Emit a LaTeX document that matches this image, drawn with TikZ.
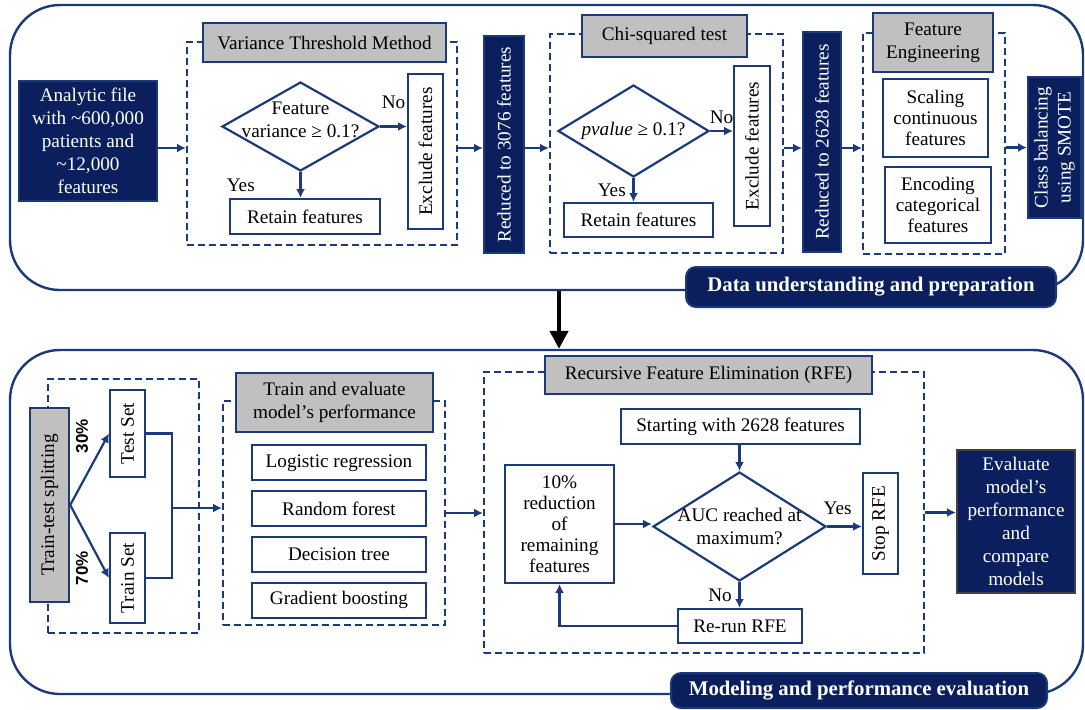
\documentclass[tikz,border=0pt]{standalone}
\usepackage{fontspec}
\setmainfont{Liberation Serif}
\newfontfamily\pctfont{Liberation Sans}
\usetikzlibrary{shapes.geometric,arrows.meta}
\definecolor{navy}{HTML}{0B1F5E}
\definecolor{lnavy}{HTML}{1B3A7A}
\definecolor{hgray}{HTML}{C0C0C0}
\tikzset{
  box/.style={draw=lnavy, line width=1pt, fill=white, text=black, align=center, inner sep=1pt},
  dbox/.style={box, fill=navy, text=white},
  hdr/.style={box, fill=hgray, line width=1.2pt},
  grp/.style={draw=lnavy, line width=1pt, dash pattern=on 3.5pt off 2pt},
  dia/.style={diamond, draw=lnavy, line width=1.1pt, fill=white, inner sep=0pt},
  tag/.style={dbox, rounded corners=5pt, font=\fontsize{10.4}{12}\selectfont\bfseries},
  panel/.style={draw=lnavy, line width=1.2pt, rounded corners=25pt},
  pct/.style={rotate=90, font=\pctfont\bfseries\fontsize{8.5}{10}\selectfont}
}
\begin{document}
\begin{tikzpicture}[x=0.5pt, y=-0.5pt, color=lnavy, text=black, line width=1.1pt,
    >={Latex[length=4.5pt,width=4.5pt]}, font=\fontsize{9.6}{11.5}\selectfont]
  \useasboundingbox (0,0) rectangle (1085,709);
  \node[panel, minimum width=536.5pt, minimum height=142.5pt] (P1) at (546.5,147.5) {};
  \node[panel, minimum width=536.5pt, minimum height=172pt] (P2) at (546.5,522) {};

  \node[dbox, minimum width=69pt, minimum height=60pt] (AF) at (88,141)
    {Analytic file\\with \textasciitilde600,000\\patients and\\\textasciitilde12,000\\features};
  \node[grp, minimum width=135pt, minimum height=101.5pt] (VT) at (322,143.5) {};
  \node[hdr, minimum width=121.5pt, minimum height=19.5pt] (VTH) at (324.5,42.5) {Variance Threshold Method};
  \node[dia, minimum width=78.5pt, minimum height=44.5pt] (D1) at (300.5,126.5) {};
  \node[align=center] (D1T) at ([yshift=3.5pt]D1) {Feature\\variance ≥ 0.1?};
  \node[box, rotate=90, minimum width=77.5pt, minimum height=17.5pt] (EX1) at (425.5,151.5) {Exclude features};
  \node[box, minimum width=75pt, minimum height=17.5pt] (RT1) at (305,216.5) {Retain features};
  \node[dbox, rotate=90, minimum width=108.5pt, minimum height=20pt] (R1) at (504,144.5) {Reduced to 3076 features};

  \node[grp, minimum width=116.5pt, minimum height=109.5pt] (CS) at (666.5,143.5) {};
  \node[hdr, minimum width=82.5pt, minimum height=21pt] (CSH) at (664.5,36) {Chi-squared test};
  \node[dia, minimum width=75.5pt, minimum height=46pt] (D2) at (633.5,131) {};
  \node (D2T) at (D2) {\textit{pvalue} ≥ 0.1?};
  \node[box, rotate=90, minimum width=80pt, minimum height=18pt] (EX2) at (752,146) {Exclude features};
  \node[box, minimum width=74.5pt, minimum height=17pt] (RT2) at (638.5,220) {Retain features};
  \node[dbox, rotate=90, minimum width=110pt, minimum height=19pt] (R2) at (822,142) {Reduced to 2628 features};

  \node[grp, minimum width=71pt, minimum height=110.5pt] (FE) at (934,143.5) {};
  \node[hdr, minimum width=60pt, minimum height=29.5pt] (FEH) at (933,42.5) {Feature\\Engineering};
  \node[box, minimum width=52.5pt, minimum height=39pt, font=\fontsize{9.6}{10.5}\selectfont] (SC) at (935.5,118) {Scaling\\continuous\\features};
  \node[box, minimum width=53pt, minimum height=38pt, font=\fontsize{9.6}{10.5}\selectfont] (EN) at (938,205) {Encoding\\categorical\\features};
  \node[dbox, rotate=90, minimum width=70.5pt, minimum height=26.5pt] (SM) at (1054.5,147.5) {Class balancing\\using SMOTE};
  \node[tag, minimum width=185pt, minimum height=20pt] (TL) at (871,287) {Data understanding and preparation};

  \coordinate (M) at (0,148);
  \draw[->] (AF.east |- M) -- (VT.west |- M);
  \draw[->] (D1) -- (D1 -| EX1.north) node[midway, above=5pt] (NO1) {No};
  \draw[->] (D1) -- (D1 |- RT1.north) node[midway, left=19pt] (YS1) {Yes};
  \draw[->] (VT.east |- M) -- (R1.north |- M);
  \draw[->] (R1.south |- M) -- (CS.west |- M);
  \draw[->] (D2) -- (D2 -| EX2.north) node[midway, above] (NO2) {No};
  \draw[->] (D2) -- (D2 |- RT2.north) node[midway, left] (YS2) {Yes};
  \draw[->] (CS.east |- M) -- (R2.north |- M);
  \draw[->] (R2.south |- M) -- (FE.west |- M);
  \draw[->] (FE.east |- SM) -- (SM.north);
  \draw[-{Triangle[length=9pt,width=9pt]}, line width=2.2pt, black] ([xshift=6.25pt]P1.south) -- ([xshift=6.25pt]P2.north);

  \node[grp, minimum width=75.5pt, minimum height=127pt] (TT) at (123.5,506) {};
  \node[hdr, rotate=90, minimum width=97pt, minimum height=19.5pt] (TS) at (49.5,505) {Train-test splitting};
  \node[box, rotate=90, minimum width=43.5pt, minimum height=17.5pt] (TE) at (127.5,433.5) {Test Set};
  \node[box, rotate=90, minimum width=45pt, minimum height=17.5pt] (TR) at (127.5,578) {Train Set};
  \node[pct] (P30) at (82,436) {30\%};
  \node[pct] (P70) at (82,568) {70\%};

  \node[grp, minimum width=111pt, minimum height=112pt] (TM) at (334,513) {};
  \node[hdr, minimum width=98.5pt, minimum height=29.5pt] (TMH) at (334.5,402.5) {Train and evaluate\\model's performance};
  \foreach \m [count=\i] in {Logistic regression, Random forest, Decision tree, Gradient boosting}
    \node[box, minimum width=87pt, minimum height=17.5pt] (M\i) at (339,417+45.8*\i) {\m};

  \node[grp, minimum width=220pt, minimum height=140.5pt] (RFE) at (704,512.5) {};
  \node[hdr, minimum width=163.5pt, minimum height=19pt] (RFEH) at (708.5,375) {Recursive Feature Elimination (RFE)};
  \node[box, minimum width=119.5pt, minimum height=17.5pt] (ST) at (740.5,426.5) {Starting with 2628 features};
  \node[dia, minimum width=86.5pt, minimum height=54.5pt] (D3) at (739.5,526.5) {};
  \node[align=center] (D3T) at (D3) {AUC reached at\\maximum?};
  \node[box, rotate=90, minimum width=50.5pt, minimum height=17.5pt] (SR) at (880.5,523.5) {Stop RFE};
  \node[box, minimum width=62pt, minimum height=17pt] (RR) at (740,626) {Re-run RFE};
  \node[box, minimum width=54.5pt, minimum height=59pt, font=\fontsize{9.6}{10.5}\selectfont] (RD) at (559.5,524)
    {10\%\\reduction\\of\\remaining\\features};
  \node[dbox, draw=black!75, minimum width=59pt, minimum height=71.5pt] (EV) at (1016,521.5)
    {Evaluate\\model's\\performance\\and\\compare\\models};
  \node[tag, minimum width=188pt, minimum height=17.5pt] (BL) at (859,690.5) {Modeling and performance evaluation};

  \coordinate (J) at (172,508);
  \draw[->] (TS.south) -- (TE.north);
  \draw[->] (TS.south) -- (TR.north);
  \draw (TE.south) -| (J) |- (TR.south);
  \draw[->] (J) -- (J -| TM.west);
  \draw[->] (TM) -- (TM -| RFE.west);
  \draw[->] (D3 |- ST.south) -- (D3.north);
  \draw[->] (D3) -- (D3 -| SR.north) node[pos=0.3, above=2pt] (YS3) {Yes};
  \draw[->] (D3) -- (D3 |- RR.north) node[midway, left] (NO3) {No};
  \draw[->] (RR) -| (RD);
  \draw[->] (RD) -- (RD -| D3.west);
  \draw[->] (RFE) -- (RFE -| EV.west);
\end{tikzpicture}
\end{document}
